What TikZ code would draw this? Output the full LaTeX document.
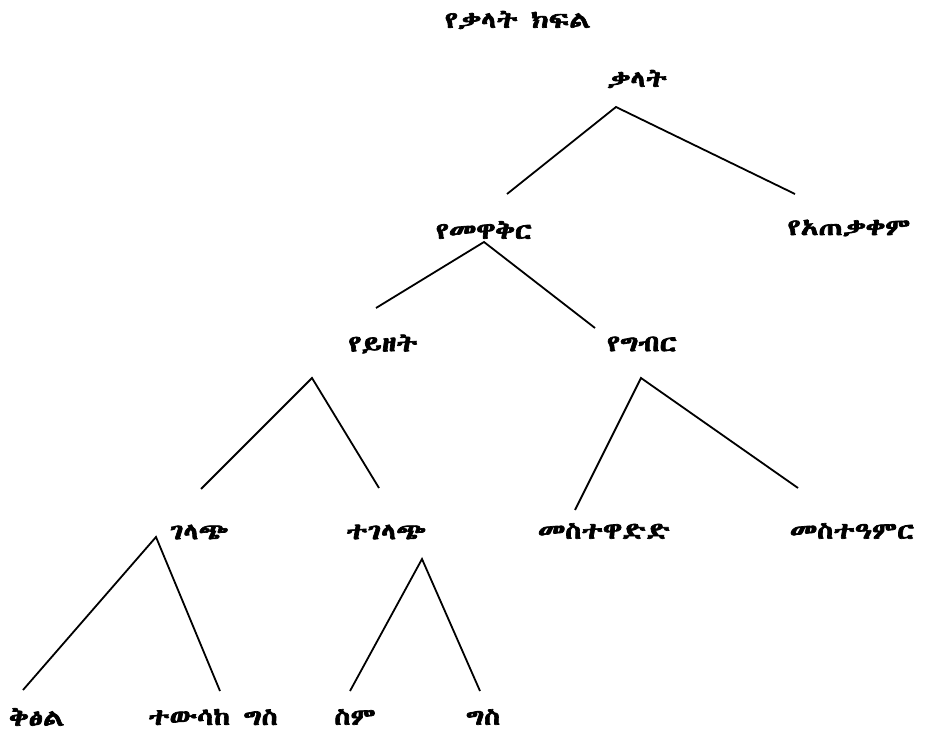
\documentclass[tikz,border=0pt]{standalone}
\usepackage{fontspec}
\newfontfamily\ethfont[Script=Ethiopic,FakeBold=3,FakeStretch=1.28]{Abyssinica SIL}
\begin{document}
\begin{tikzpicture}[x=1pt,y=-1pt,
  lbl/.style={font=\ethfont\fontsize{23}{26}\selectfont, inner sep=0pt},
  br/.style={line width=1.8pt}]
\useasboundingbox (0,0) rectangle (927,735);
\node[lbl] (title) at (518,20) {የቃላት ክፍል};
\node[lbl] (r) at (637,79) {ቃላት};
\node[lbl] (a) at (484,230) {የመዋቅር};
\node[lbl] (b) at (849,228) {የአጠቃቀም};
\node[lbl] (c) at (383,344) {የይዘት};
\node[lbl] (d) at (642,344) {የግብር};
\node[lbl] (e) at (199,532) {ገላጭ};
\node[lbl] (f) at (386,532) {ተገላጭ};
\node[lbl] (g) at (604,531) {መስተዋድድ};
\node[lbl] (h) at (852,531) {መስተዓምር};
\node[lbl] (i) at (37,717) {ቅፅል};
\node[lbl] (j) at (213,717) {ተውሳከ ግስ};
\node[lbl] (k) at (355,717) {ስም};
\node[lbl] (l) at (483,717) {ግስ};
% apexes and ends
\coordinate (r0) at (616,107); \coordinate (ra) at (507,194); \coordinate (rb) at (795,194);
\coordinate (a0) at (484,242); \coordinate (ac) at (376,308); \coordinate (ad) at (595,328);
\coordinate (c0) at (312,378); \coordinate (ce) at (201,489); \coordinate (cf) at (379,488);
\coordinate (d0) at (641,378); \coordinate (dg) at (575,510); \coordinate (dh) at (798,488);
\coordinate (e0) at (156,537); \coordinate (ei) at (23,690); \coordinate (ej) at (220,691);
\coordinate (f0) at (422,559); \coordinate (fk) at (350,691); \coordinate (fl) at (480,691);
\draw[br] (ra) -- (r0) -- (rb);
\draw[br] (ac) -- (a0) -- (ad);
\draw[br] (ce) -- (c0) -- (cf);
\draw[br] (dg) -- (d0) -- (dh);
\draw[br] (ei) -- (e0) -- (ej);
\draw[br] (fk) -- (f0) -- (fl);
\end{tikzpicture}
\end{document}
